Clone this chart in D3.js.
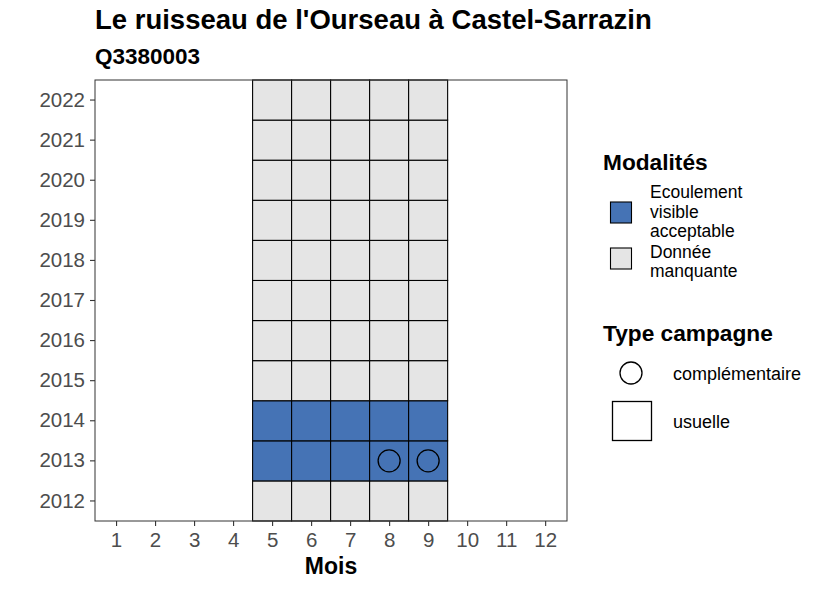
<!DOCTYPE html>
<html>
<head>
<meta charset="utf-8">
<script src="https://cdn.jsdelivr.net/npm/d3@7"></script>
<style>
  body { margin: 0; background: #fff; }
  text { font-family: "Liberation Sans", Arial, sans-serif; }
</style>
</head>
<body>
<div id="chart"></div>
<script>
// data
const months = [1, 2, 3, 4, 5, 6, 7, 8, 9, 10, 11, 12];
const years = [2012, 2013, 2014, 2015, 2016, 2017, 2018, 2019, 2020, 2021, 2022];
const obsMonths = [5, 6, 7, 8, 9];
const blueYears = [2013, 2014];
const compCells = [[2013, 8], [2013, 9]];
const modalites = ["Ecoulement visible acceptable", "Donnée manquante"];
const modColors = ["#4573b5", "#e5e5e5"];
const campagnes = ["complémentaire", "usuelle"];

const width = 826, height = 590;
const panel = {left: 95, right: 567, top: 80, bottom: 521};

let cells = [];
years.forEach(y => obsMonths.forEach(m => {
    cells.push({year: y, month: m,
        mod: blueYears.includes(y) ? modalites[0] : modalites[1]});
}));

let svg = d3.select("#chart")
    .append("svg")
    .attr("width", width)
    .attr("height", height);

let x = d3.scaleLinear()
    .domain([0.46, 12.56])
    .range([panel.left, panel.right]);
let y = d3.scaleBand()
    .domain(years.slice().reverse())
    .range([panel.top, panel.bottom]);
let color = d3.scaleOrdinal().domain(modalites).range(modColors);

// tiles
svg.append("g")
    .selectAll("rect")
    .data(cells)
    .enter()
    .append("rect")
    .attr("x", d => x(d.month - 0.5))
    .attr("y", d => y(d.year))
    .attr("width", d => x(d.month + 0.5) - x(d.month - 0.5))
    .attr("height", y.bandwidth())
    .attr("fill", d => color(d.mod))
    .attr("stroke", "#000")
    .attr("stroke-width", 1.1);

// complementary campaign markers
svg.append("g")
    .selectAll("circle")
    .data(compCells)
    .enter()
    .append("circle")
    .attr("cx", d => x(d[1]))
    .attr("cy", d => y(d[0]) + y.bandwidth() / 2)
    .attr("r", 11)
    .attr("fill", "none")
    .attr("stroke", "#000")
    .attr("stroke-width", 1.3);

// panel border
svg.append("rect")
    .attr("x", panel.left)
    .attr("y", panel.top)
    .attr("width", panel.right - panel.left)
    .attr("height", panel.bottom - panel.top)
    .attr("fill", "none")
    .attr("stroke", "#333")
    .attr("stroke-width", 1);

// axes
let xAxis = svg.append("g")
    .attr("transform", `translate(0, ${panel.bottom})`)
    .call(d3.axisBottom(x).tickValues(months).tickSize(5).tickPadding(6).tickFormat(d3.format("d")));
let yAxis = svg.append("g")
    .attr("transform", `translate(${panel.left}, 0)`)
    .call(d3.axisLeft(y).tickSize(5).tickPadding(5));
[xAxis, yAxis].forEach(a => {
    a.select(".domain").remove();
    a.selectAll(".tick line").attr("stroke", "#333").attr("stroke-width", 1.1);
    a.selectAll(".tick text")
        .attr("fill", "#4d4d4d")
        .style("font-size", "20.5px")
        .style("font-family", "Liberation Sans, Arial, sans-serif");
});

// titles
svg.append("text")
    .attr("x", 95).attr("y", 29)
    .style("font-size", "27.5px").style("font-weight", "bold")
    .text("Le ruisseau de l'Ourseau à Castel-Sarrazin");
svg.append("text")
    .attr("x", 95).attr("y", 64)
    .style("font-size", "22.5px").style("font-weight", "bold")
    .text("Q3380003");
svg.append("text")
    .attr("x", (panel.left + panel.right) / 2).attr("y", 574)
    .attr("text-anchor", "middle")
    .style("font-size", "23px").style("font-weight", "bold")
    .text("Mois");

// legend: modalites
let leg = svg.append("g").attr("transform", "translate(603, 0)");
leg.append("text")
    .attr("x", 0).attr("y", 170)
    .style("font-size", "22.7px").style("font-weight", "bold")
    .text("Modalités");
let modLines = [["Ecoulement", "visible", "acceptable"], ["Donnée", "manquante"]];
let modKeyY = [202, 248];
let modTextY = [198, 257.5];
modalites.forEach((m, i) => {
    leg.append("rect")
        .attr("x", 7.5).attr("y", modKeyY[i])
        .attr("width", 21).attr("height", 21)
        .attr("fill", color(m))
        .attr("stroke", "#000").attr("stroke-width", 1.1);
    let t = leg.append("text")
        .attr("x", 47).attr("y", modTextY[i])
        .style("font-size", "17.5px");
    modLines[i].forEach((l, j) => {
        t.append("tspan").attr("x", 47).attr("dy", j === 0 ? 0 : 19.5).text(l);
    });
});

// legend: type campagne
leg.append("text")
    .attr("x", 0).attr("y", 341)
    .style("font-size", "22.7px").style("font-weight", "bold")
    .text("Type campagne");
leg.append("circle")
    .attr("cx", 28).attr("cy", 373).attr("r", 11)
    .attr("fill", "none").attr("stroke", "#000").attr("stroke-width", 1.3);
leg.append("rect")
    .attr("x", 9.5).attr("y", 401.5).attr("width", 39).attr("height", 39)
    .attr("fill", "none").attr("stroke", "#000").attr("stroke-width", 1.3);
campagnes.forEach((c, i) => {
    leg.append("text")
        .attr("x", 70).attr("y", [379.5, 427.5][i])
        .style("font-size", "18px")
        .text(c);
});
</script>
</body>
</html>
